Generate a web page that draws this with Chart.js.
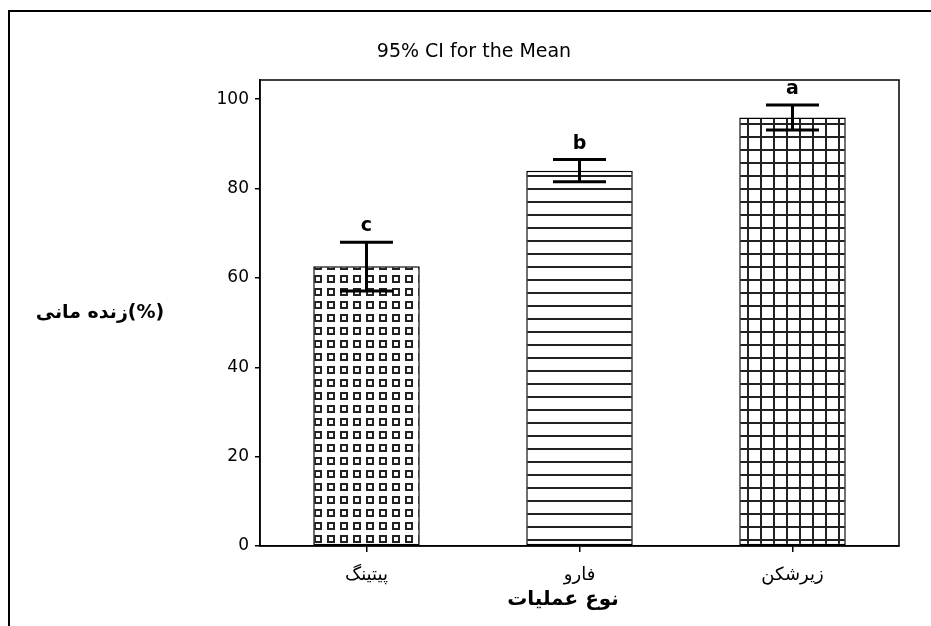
<!DOCTYPE html>
<html>
<head>
<meta charset="utf-8">
<script src="https://cdn.jsdelivr.net/npm/chart.js@4"></script>
<style>
  body { margin: 0; background: #fff; }
  canvas { display: block; }
</style>
</head>
<body>
<canvas id="chart" width="931" height="626"></canvas>
<script>
// DATA
let categories = ["پیتینگ", "فارو", "زیرشکن"];
let means = [62.6, 84.0, 95.9];
let ciLow = [57.1, 81.5, 93.1];
let ciHigh = [68.0, 86.5, 98.7];
let groupLetters = ["c", "b", "a"];
let yTicks = [0, 20, 40, 60, 80, 100];

let chartTitle = "95% CI for the Mean";
let xTitle = "نوع عملیات";
let yTitle = "زنده مانی(%)";

// PATTERNS
function makePattern(kind) {
    let c = document.createElement("canvas");
    c.width = 13;
    c.height = 13;
    let g = c.getContext("2d");
    g.fillStyle = "#fff";
    g.fillRect(0, 0, 13, 13);
    g.fillStyle = "#222";
    g.strokeStyle = "#222";
    if (kind === "squares") {
        g.lineWidth = 2;
        g.strokeRect(3, 3, 6, 6);
    } else if (kind === "lines") {
        g.fillRect(0, 6, 13, 2);
    } else {
        g.fillRect(0, 6, 13, 2);
        g.fillRect(6, 0, 2, 13);
    }
    return g.createPattern(c, "repeat");
}

let patterns = [makePattern("squares"), makePattern("lines"), makePattern("grid")];

// EXTRA DRAWING
let extras = {
    id: "extras",
    beforeDraw(chart) {
        let ctx = chart.ctx;
        ctx.save();
        ctx.fillStyle = "#fff";
        ctx.fillRect(0, 0, chart.width, chart.height);
        ctx.strokeStyle = "#000";
        ctx.lineWidth = 2;
        ctx.beginPath();
        ctx.moveTo(9, chart.height + 5);
        ctx.lineTo(9, 11);
        ctx.lineTo(chart.width + 5, 11);
        ctx.stroke();
        ctx.restore();
    },
    afterDatasetsDraw(chart) {
        let ctx = chart.ctx;
        let x = chart.scales.x;
        let y = chart.scales.y;
        let a = chart.chartArea;
        ctx.save();
        ctx.strokeStyle = "#000";
        ctx.lineWidth = 1.5;
        ctx.strokeRect(a.left, a.top, a.right - a.left, a.bottom - a.top);

        ctx.lineWidth = 3;
        ctx.fillStyle = "#000";
        ctx.font = "bold 19px 'DejaVu Sans'";
        ctx.textAlign = "center";
        ctx.textBaseline = "alphabetic";
        categories.forEach((cat, i) => {
            let cx = x.getPixelForValue(i);
            let yl = y.getPixelForValue(ciLow[i]);
            let yh = y.getPixelForValue(ciHigh[i]);
            let half = 26.5;
            ctx.beginPath();
            ctx.moveTo(cx, yl);
            ctx.lineTo(cx, yh);
            ctx.moveTo(cx - half, yl);
            ctx.lineTo(cx + half, yl);
            ctx.moveTo(cx - half, yh);
            ctx.lineTo(cx + half, yh);
            ctx.stroke();
            ctx.fillText(groupLetters[i], cx, yh - 11);
        });
        ctx.restore();
    },
    afterDraw(chart) {
        let ctx = chart.ctx;
        ctx.save();
        ctx.fillStyle = "#000";
        ctx.textBaseline = "middle";
        ctx.textAlign = "center";
        ctx.font = "19px 'DejaVu Sans'";
        ctx.fillText(chartTitle, 474, 52);
        ctx.font = "bold 20px 'DejaVu Sans'";
        ctx.fillText(xTitle, 563, 600);
        ctx.font = "bold 19px 'DejaVu Sans'";
        ctx.fillText(yTitle, 100, 313);
        ctx.restore();
    }
};

// CHART
new Chart(document.getElementById("chart"), {
    type: "bar",
    data: {
        labels: categories,
        datasets: [{
            data: means,
            backgroundColor: patterns,
            borderColor: "#000",
            borderWidth: 1.5,
            borderSkipped: false,
            barPercentage: 0.5,
            categoryPercentage: 1.0
        }]
    },
    options: {
        responsive: false,
        animation: false,
        events: [],
        layout: { padding: { top: 80, right: 32, left: 0, bottom: 0 } },
        plugins: {
            legend: { display: false },
            tooltip: { enabled: false },
            title: { display: false }
        },
        scales: {
            x: {
                offset: true,
                afterFit: s => { s.height = 80; },
                grid: {
                    offset: false,
                    drawOnChartArea: false,
                    drawTicks: true,
                    tickLength: 6,
                    color: "#000",
                    lineWidth: 1.5
                },
                border: { display: true, color: "#000", width: 1.5 },
                ticks: {
                    color: "#000",
                    padding: 13,
                    font: { family: "'DejaVu Sans'", size: 18 }
                }
            },
            y: {
                min: 0,
                max: 104.3,
                afterFit: s => { s.width = 260; },
                afterBuildTicks: s => { s.ticks = yTicks.map(v => ({ value: v })); },
                grid: {
                    drawOnChartArea: false,
                    drawTicks: true,
                    tickLength: 5,
                    color: "#000",
                    lineWidth: 1.5
                },
                border: { display: true, color: "#000", width: 1.5 },
                ticks: {
                    color: "#000",
                    padding: 6,
                    font: { family: "'DejaVu Sans'", size: 17 }
                }
            }
        }
    },
    plugins: [extras]
});
</script>
</body>
</html>
